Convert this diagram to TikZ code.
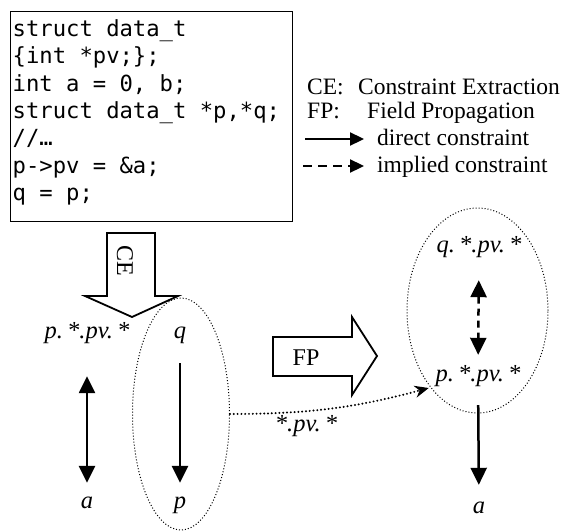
\documentclass[tikz,border=0pt]{standalone}
\usepackage{fontspec}
\setmainfont{Liberation Serif}
\newfontfamily\codefont{DejaVu Sans Mono}
\usetikzlibrary{arrows.meta,shapes.geometric}
\tikzset{
  lbl/.style={font=\itshape\fontsize{24.5}{24.5}\selectfont, inner sep=0pt, text height=16pt, text depth=5pt},
  legtxt/.style={font=\fontsize{23.5}{23.5}\selectfont, inner sep=0pt, anchor=base west},
  arr/.style={line width=2.5pt, -{Triangle[length=17pt,width=16pt]}},
  darr/.style={line width=2.5pt, {Triangle[length=17pt,width=16pt]}-{Triangle[length=17pt,width=16pt]}},
  legarr/.style={line width=2.3pt, -{Triangle[length=14pt,width=13pt]}},
  ell/.style={ellipse, draw, line width=1pt, dash pattern=on 1pt off 2pt, inner sep=0pt},
  block/.style={draw, line width=1.8pt, line join=miter, fill=white},
  dotarr/.style={line width=2.2pt, line cap=round, dash pattern=on 0pt off 3.8pt, -{Stealth[length=14pt,width=12pt]}}
}
\begin{document}
\begin{tikzpicture}[x=1pt,y=-1pt]
\useasboundingbox (0,0) rectangle (570,530);
% code box
\node[draw, line width=1.3pt, anchor=north west, minimum width=282pt, minimum height=210pt, inner sep=0pt] (code) at (9.5,11) {};
\node[anchor=north west, inner sep=0pt, align=left, font=\codefont\fontsize{22.2}{27.3}\selectfont] (codetxt) at (12.5,19.5)
 {struct data\_t\\ \{int *pv;\};\\ int a = 0, b;\\ struct data\_t *p,*q;\\ //…\\ p->pv = \&a;\\ q = p;};
% legend
\node[legtxt] (ce) at (307,94) {CE:};
\node[legtxt] (cetxt) at (358,94) {Constraint Extraction};
\node[legtxt] (fp) at (307,118) {FP:};
\node[legtxt] (fptxt) at (367,118) {Field Propagation};
\node[legtxt] (dtxt) at (377,145) {direct constraint};
\node[legtxt] (itxt) at (377,172) {implied constraint};
\coordinate (d1) at (305,139);
\coordinate (i1) at (303,166);
\draw[legarr, shorten >=13pt] (d1) -- (d1 -| dtxt.west);
\draw[legarr, dash pattern=on 9pt off 6pt, shorten >=13pt] (i1) -- (i1 -| itxt.west);
% CE block arrow
\draw[block] (107,233) -- (155,233) -- (155,296) -- (178,296) -- (132,317) -- (85,296) -- (107,296) -- cycle;
\node[font=\fontsize{24}{24}\selectfont, rotate=-90, inner sep=0pt] (cearr) at (125,261) {CE};
% FP block arrow
\draw[block] (273,337) -- (352,337) -- (352,317) -- (377,356) -- (352,395) -- (352,376) -- (273,376) -- cycle;
\node[font=\fontsize{24}{24}\selectfont, inner sep=0pt] (fparr) at (306,358) {FP};
% left group
\node[lbl] (pl) at (87,332.5) {p.\,*.pv.\,*};
\node[lbl] (q) at (180,332.5) {q};
\node[lbl] (al) at (87,502.5) {a};
\node[lbl] (p) at (180,502.5) {p};
\node[ell, minimum width=97pt, minimum height=232pt] (ellL) at (181,414) {};
\draw[darr, shorten <=33pt, shorten >=9pt] (pl) -- (al);
\draw[arr, shorten <=20pt, shorten >=9pt] (q) -- (p);
% right group
\node[lbl] (qr) at (479,246.5) {q.\,*.pv.\,*};
\node[lbl] (pr) at (478,375.5) {p.\,*.pv.\,*};
\node[lbl] (ar) at (479,507.5) {a};
\node[ell, minimum width=141pt, minimum height=205pt] (ellR) at (477.5,310.5) {};
\draw[darr, dash pattern=on 7pt off 5pt, shorten <=23pt, shorten >=10pt] (qr) -- (pr);
\draw[arr, shorten <=19pt, shorten >=12pt] (pr) -- (ar);
% propagation connector
\draw[dotarr, shorten >=7pt] (ellL.east) to[out=0, in=195] (pr.south west);
\node[lbl] (pvlbl) at (306,425.5) {*.pv.\,*};
\end{tikzpicture}
\end{document}
